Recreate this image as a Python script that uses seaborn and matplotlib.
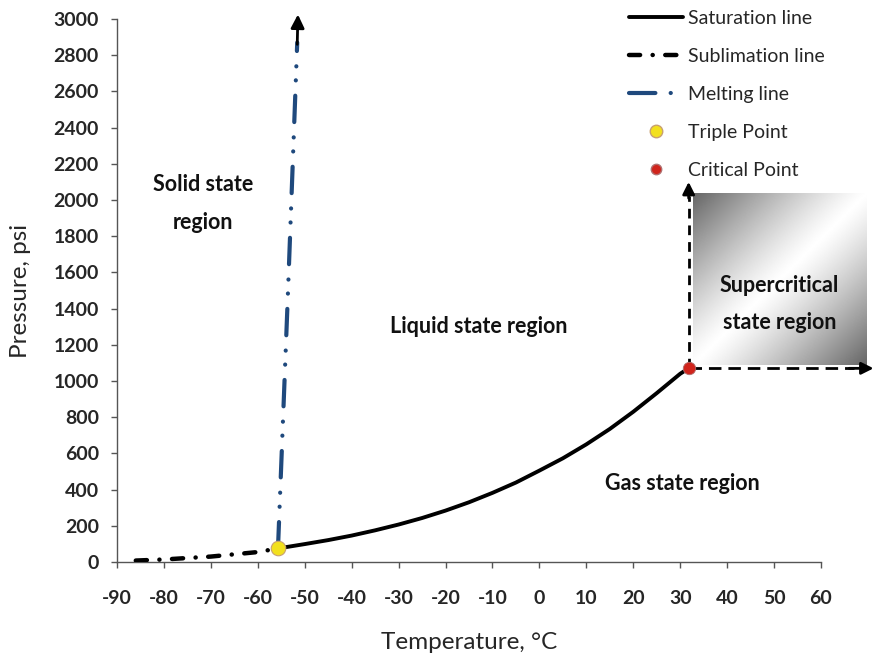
import numpy as np
import pandas as pd
import matplotlib
matplotlib.use("Agg")
import matplotlib.pyplot as plt
import seaborn as sns
from matplotlib.lines import Line2D

# CO2 phase diagram data (temperature in degC, pressure in psi)
sat_T = [-55.7, -50, -45, -40, -35, -30, -25, -20, -15, -10, -5, 0, 5, 10, 15, 20, 25, 30, 31.8]
sat_P = [75, 99, 121, 146, 175, 207, 243, 284, 330, 382, 439, 505, 573, 650, 735, 830, 933, 1040, 1070]

sub_T = [-86, -80, -70, -60, -55.7]
sub_P = [8, 14, 30, 55, 75]

melt_T = [-55.7, -53.6, -51.6]
melt_P = [75, 1470, 2870]

triple_T, triple_P = -55.7, 75
crit_T, crit_P = 31.8, 1070

x_ticks = list(range(-90, 61, 10))
y_ticks = list(range(0, 3001, 200))

sns.set_theme(style="white")
plt.rcParams["font.family"] = ["Lato", "DejaVu Sans"]
plt.rcParams["lines.scale_dashes"] = False
plt.rcParams["axes.unicode_minus"] = False

fig = plt.figure(figsize=(8.76, 6.59), dpi=100)
ax = fig.add_axes([117 / 876, 1 - 562 / 659, (821 - 117) / 876, (562 - 19) / 659])

blue = "#1F497D"
sub_style = (0, (8, 9, 0.1, 9))
melt_style = (0, (19, 11, 0.1, 10, 0.1, 11))

# supercritical region with diagonal grey-white-grey shading
nx, ny = 200, 120
u = np.linspace(0, 1, nx)[None, :]
v = np.linspace(0, 1, ny)[:, None]
t = (u + v) / 2
shade = 0.40 + 0.60 * (1 - np.abs(2 * t - 1) ** 1.2)
ax.imshow(shade, cmap="gray", vmin=0, vmax=1, extent=[32.8, 69.8, 1090, 2040],
          aspect="auto", clip_on=False, zorder=0, interpolation="bilinear")
ax.set_aspect("auto")

sns.lineplot(x=sub_T, y=sub_P, ax=ax, color="black", lw=3.2, sort=False,
             linestyle=sub_style, dash_capstyle="round", zorder=3)
sns.lineplot(x=melt_T, y=melt_P, ax=ax, color=blue, lw=3.0, sort=False,
             linestyle=melt_style, dash_capstyle="round", zorder=3)
sns.lineplot(x=sat_T, y=sat_P, ax=ax, color="black", lw=2.8, sort=False, zorder=3)

# arrows
ax.annotate("", xy=(-51.45, 3025), xytext=(-51.6, 2860), annotation_clip=False,
            arrowprops=dict(arrowstyle="-|>", color="black", lw=2, mutation_scale=20,
                            shrinkA=0, shrinkB=0))
ax.plot([crit_T, crit_T], [crit_P, 2020], color="black", lw=2,
        linestyle=(0, (7, 5)), clip_on=False, zorder=2)
ax.annotate("", xy=(crit_T, 2100), xytext=(crit_T, 2010), annotation_clip=False,
            arrowprops=dict(arrowstyle="-|>", color="black", lw=2, mutation_scale=18,
                            shrinkA=0, shrinkB=0))
ax.plot([crit_T, 67], [crit_P, crit_P], color="black", lw=2,
        linestyle=(0, (9, 5)), clip_on=False, zorder=2)
ax.annotate("", xy=(71.2, crit_P), xytext=(66, crit_P), annotation_clip=False,
            arrowprops=dict(arrowstyle="-|>", color="black", lw=2, mutation_scale=18,
                            shrinkA=0, shrinkB=0))

pts = pd.DataFrame({"T": [triple_T, crit_T], "P": [triple_P, crit_P]})
sns.scatterplot(data=pts.iloc[[0]], x="T", y="P", ax=ax, s=110, color="#F2E01E",
                edgecolor="#C8A070", linewidth=0.8, zorder=5, clip_on=False)
sns.scatterplot(data=pts.iloc[[1]], x="T", y="P", ax=ax, s=80, color="#D0241C",
                edgecolor="#B07070", linewidth=0.6, zorder=5, clip_on=False)

# region labels
lab = dict(fontsize=15.5, fontweight="bold", ha="center", va="center", color="#111111")
ax.text(-71.6, 1980, "Solid state\n\nregion", linespacing=0.87, **lab)
ax.text(-12.9, 1300, "Liquid state region", **lab)
ax.text(30.5, 436, "Gas state region", **lab)
ax.text(51.2, 1425, "Supercritical\n\nstate region", linespacing=0.87, **lab)

ax.set_xlim(-90, 60)
ax.set_ylim(0, 3000)
ax.set_xticks(x_ticks)
ax.set_yticks(y_ticks)
ax.tick_params(axis="both", which="major", direction="out", length=4, width=1,
               color="#555555", bottom=True, left=True, labelsize=14)
ax.tick_params(axis="x", pad=16)
ax.tick_params(axis="y", pad=9)
for lbl in ax.get_xticklabels() + ax.get_yticklabels():
    lbl.set_fontweight("bold")
for side in ["top", "right"]:
    ax.spines[side].set_visible(False)
for side in ["left", "bottom"]:
    ax.spines[side].set_color("#555555")
    ax.spines[side].set_linewidth(1)
ax.grid(False)

ax.set_xlabel("Temperature, °C", fontsize=17.5, labelpad=18)
ax.set_ylabel("Pressure, psi", fontsize=17.5, labelpad=16)

handles = [
    Line2D([], [], color="black", lw=2.8),
    Line2D([], [], color="black", lw=3.2, linestyle=(0, (8, 9, 0.1, 9)),
           dash_capstyle="round"),
    Line2D([], [], color=blue, lw=3.0, linestyle=(0, (19, 11, 0.1, 10)),
           dash_capstyle="round"),
    Line2D([], [], color="none", marker="o", markersize=9, markerfacecolor="#F2E01E",
           markeredgecolor="#C8A070"),
    Line2D([], [], color="none", marker="o", markersize=7.5, markerfacecolor="#D0241C",
           markeredgecolor="#B07070"),
]
labels = ["Saturation line", "Sublimation line", "Melting line", "Triple Point",
          "Critical Point"]
fig.legend(handles, labels, loc="upper left", bbox_to_anchor=(615 / 876, 1 + 4 / 659),
           frameon=False, fontsize=14, handlelength=2.8, handletextpad=0.25,
           labelspacing=1.08, borderpad=0.2)

fig.savefig("out.png", dpi=100)
